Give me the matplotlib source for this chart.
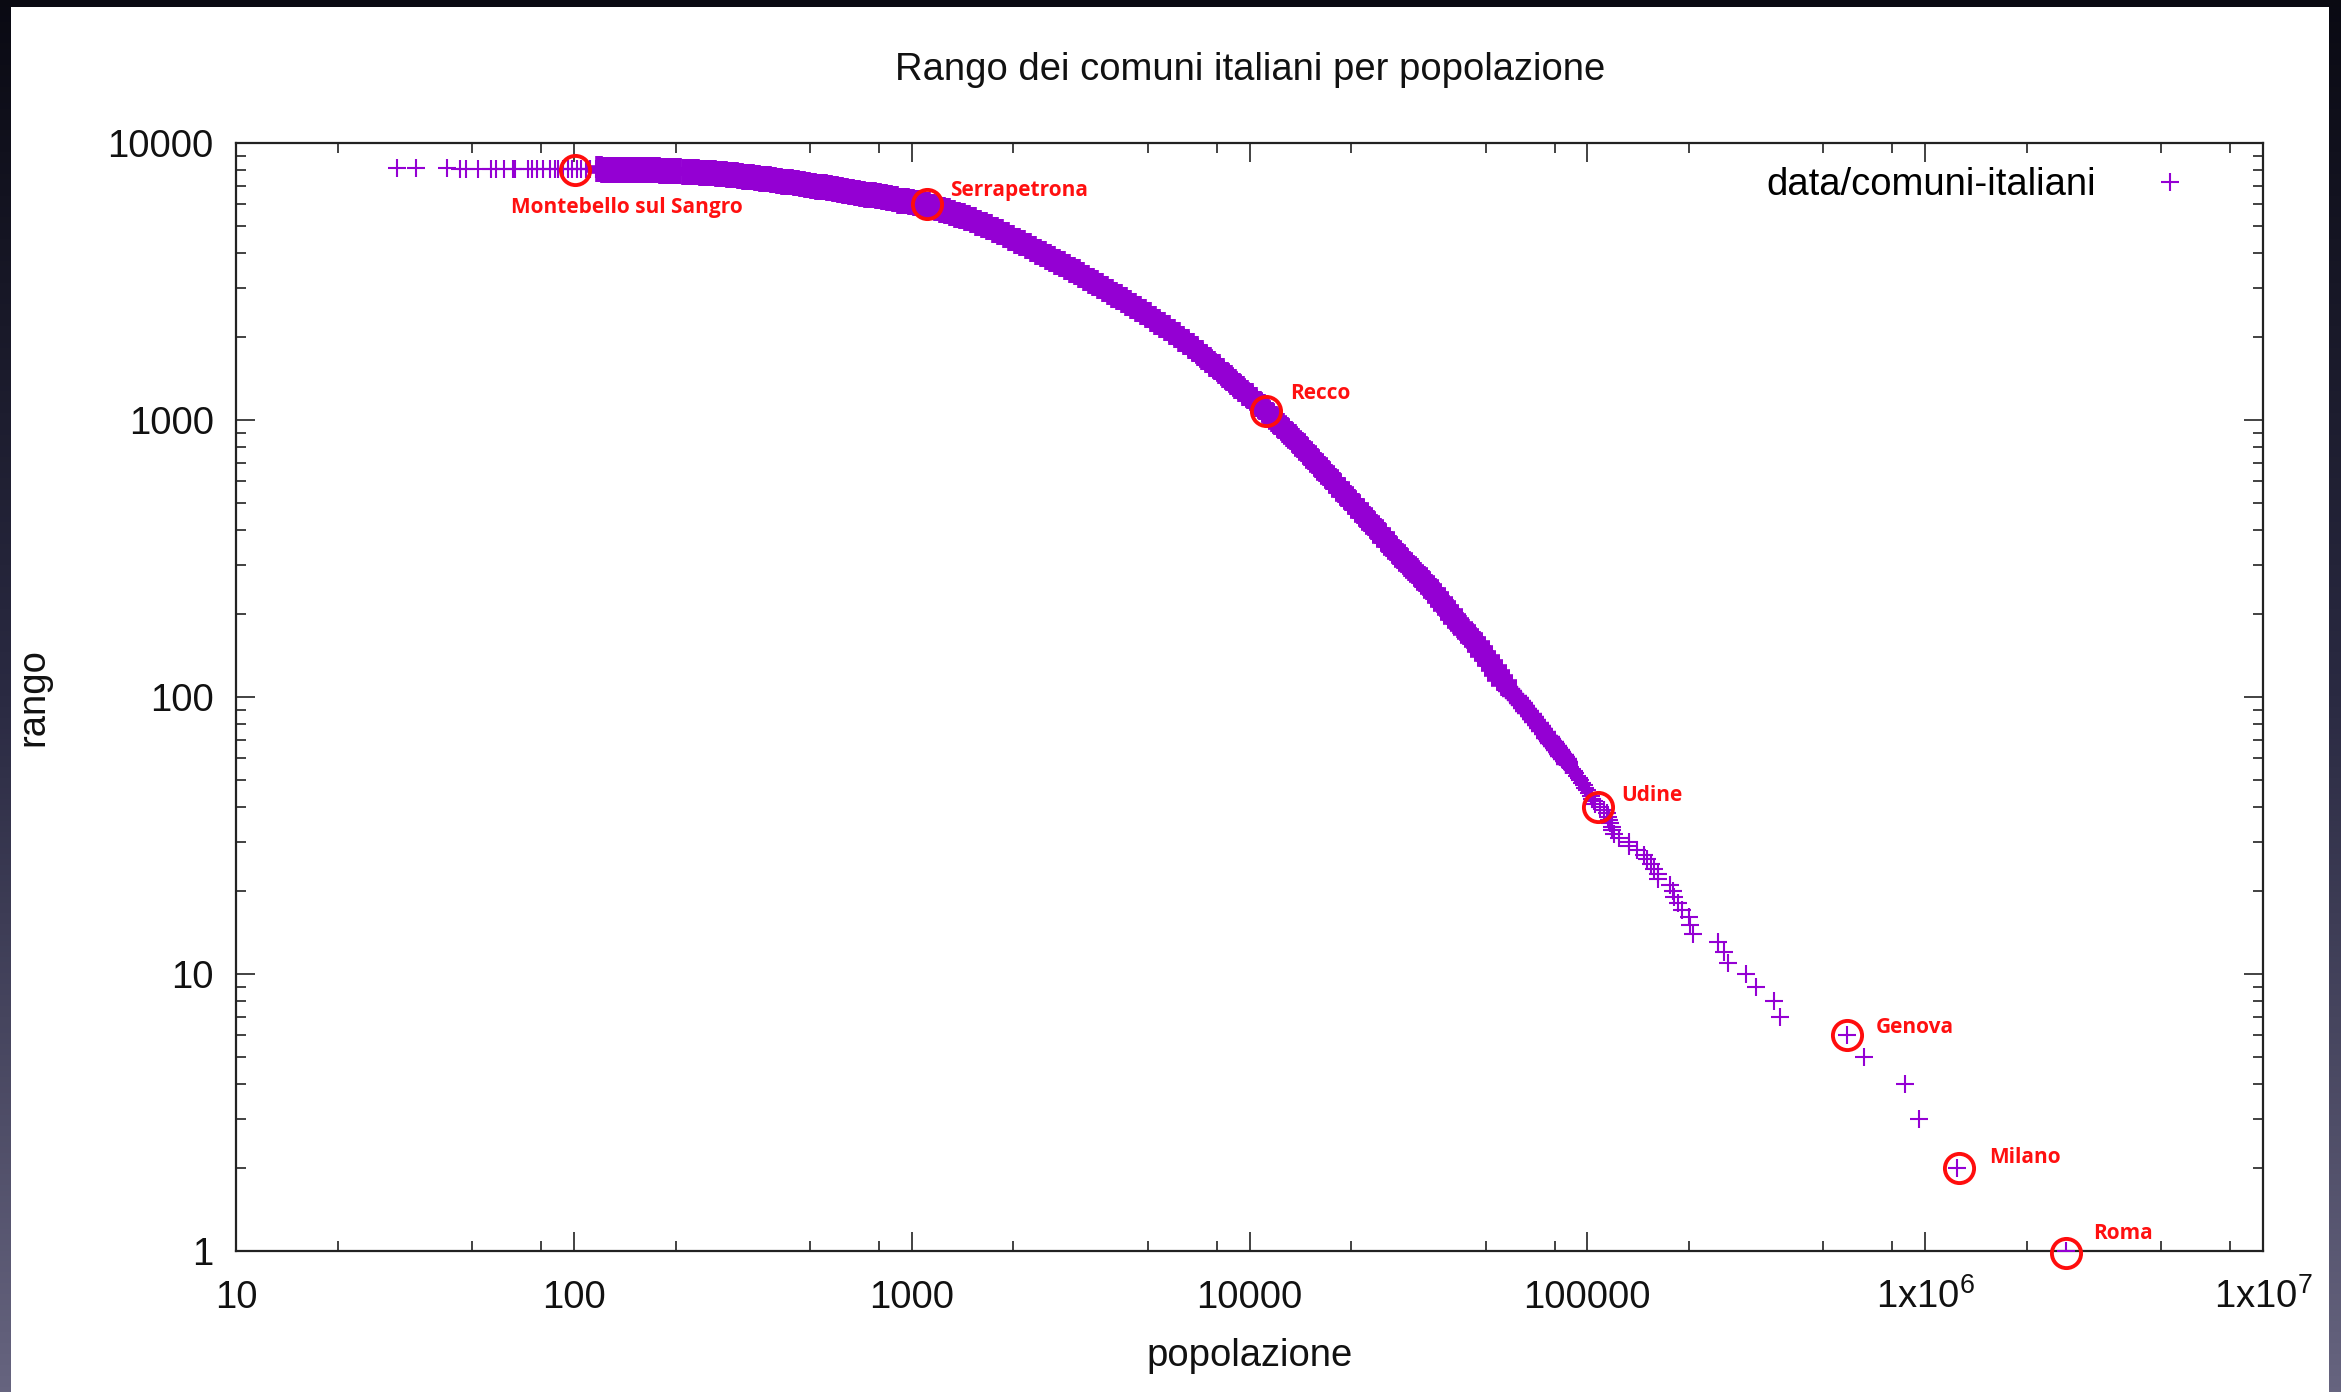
import matplotlib
matplotlib.use('Agg')
import matplotlib.pyplot as plt
from matplotlib.ticker import NullFormatter
from matplotlib.patches import Rectangle
from matplotlib.colors import LinearSegmentedColormap
import numpy as np

plt.rcParams['font.family'] = ['Liberation Sans', 'DejaVu Sans']
plt.rcParams['mathtext.fontset'] = 'custom'
plt.rcParams['mathtext.rm'] = 'Liberation Sans'
plt.rcParams['mathtext.it'] = 'Liberation Sans:italic'
plt.rcParams['mathtext.bf'] = 'Liberation Sans:bold'

# ---------------- texts ----------------
TITLE = 'Rango dei comuni italiani per popolazione'
XLABEL = 'popolazione'
YLABEL = 'rango'
SERIES_LABEL = 'data/comuni-italiani'

# ---------------- data (population, rank) ----------------
# largest comuni, one point per rank
top_rank = list(range(1, 58))
top_pop = [2620000, 1240000, 962000, 872000, 658000, 586000, 371000, 358000, 316000, 294000,
           261000, 253000, 243000, 206000, 202000, 200000, 190000, 185000, 181000, 179000,
           176000, 162000, 162000, 157000, 154000, 150000, 147000, 140000, 133000, 133000,
           124000, 120000, 118000, 118000, 117000, 116000, 115000, 114000, 112000, 109000,
           105700, 104500, 103300, 102200, 101000, 99900, 98700, 97600, 96500, 95400,
           94400, 93300, 92200, 91200, 90200, 89100, 88100]

mid_rank = [58, 59, 60, 61, 62, 63, 64, 65, 66, 67, 68, 69, 70, 71, 72, 74, 76, 78, 80, 82,
            84, 86, 88, 90, 92, 94, 96, 98, 100, 102, 104, 106, 108]
mid_pop = [87100, 86300, 85500, 84600, 83800, 83000, 82200, 81400, 80600, 79800,
           79100, 78300, 77500, 76800, 76000, 74800, 73600, 72500, 71300, 70200,
           69000, 67900, 66900, 65900, 64900, 64000, 63100, 62200, 61300, 60400,
           59600, 58700, 57900]

# smallest comuni (sparse pluses on the left)
tail_pop = [30, 34, 42, 46, 48, 52, 57, 59, 62, 66, 67, 73, 75, 78, 81,
            85, 88, 90, 93, 96, 99, 102, 105, 109, 112, 116]
tail_rank = [8092, 8091, 8090, 8089, 8088, 8087, 8086, 8085, 8084, 8083, 8082, 8079, 8076, 8073, 8070,
             8066, 8062, 8058, 8055, 8051, 8047, 8043, 8039, 8036, 8032, 8028]

# dense band
band_pop = [119, 123, 127, 131, 135, 139, 143, 148, 152,
            157, 163, 169, 176, 183, 190,
            197, 204, 213, 221, 230, 239,
            248, 258, 267, 278, 288, 299,
            311, 322, 335, 348, 361, 375,
            389, 404, 420, 437, 454, 472,
            490, 509, 528, 549, 570, 591,
            614, 637, 662, 687, 713, 740,
            769, 797, 827, 858, 891,
            924, 959, 995, 1032, 1071,
            1111, 1149, 1189, 1230,
            1273, 1317, 1363, 1410,
            1459, 1515, 1572, 1632, 1695, 1759,
            1826, 1896, 1969, 2044, 2122, 2204,
            2288, 2365, 2444, 2526, 2611, 2699, 2790,
            2884, 2978, 3076, 3176, 3280, 3387, 3498,
            3612, 3730, 3852, 3977, 4107, 4241, 4380,
            4523, 4675, 4833, 4996, 5164, 5338, 5518,
            5704, 5890, 6082, 6281, 6486, 6697, 6916,
            7141, 7345, 7554, 7769, 7991, 8218, 8453, 8694,
            8942, 9197, 9459, 9729, 10007, 10292, 10586, 10888,
            11198, 11490, 11789, 12096, 12411, 12735, 13066, 13407, 13756,
            14116, 14473, 14840, 15216, 15601, 15996, 16402, 16817, 17243,
            17680, 18141, 18614, 19099, 19597, 20108, 20632, 21170, 21722,
            22290, 22854, 23433, 24026, 24634, 25257, 25896, 26551, 27223,
            27913, 28620, 29345, 30088, 30850, 31631, 32432, 33253, 34095,
            34960, 35763, 36584, 37424, 38283, 39162,
            40060, 40981, 41923, 42887, 43873, 44881,
            45910, 46988, 48092, 49222, 50378,
            51560, 52768, 54005, 55271, 56567]
band_rank = [8024, 8020, 8017, 8013, 8009, 8005, 8001, 7998, 7994,
             7990, 7979, 7968, 7958, 7947, 7936,
             7925, 7903, 7881, 7859, 7837, 7815,
             7793, 7761, 7729, 7697, 7665, 7633,
             7601, 7559, 7518, 7476, 7434, 7393,
             7351, 7301, 7252, 7202, 7152, 7102,
             7053, 7005, 6958, 6910, 6862, 6815,
             6767, 6716, 6666, 6615, 6565, 6514,
             6464, 6411, 6358, 6306, 6253,
             6200, 6150, 6099, 6049, 5999,
             5949, 5881, 5814, 5748,
             5683, 5600, 5519, 5439,
             5360, 5257, 5156, 5058, 4961, 4866,
             4772, 4661, 4552, 4446, 4343, 4242,
             4143, 4055, 3970, 3886, 3804, 3723, 3645,
             3567, 3488, 3410, 3334, 3260, 3187, 3116,
             3047, 2975, 2906, 2838, 2771, 2706, 2642,
             2580, 2513, 2448, 2385, 2323, 2263, 2205,
             2148, 2085, 2025, 1966, 1908, 1853, 1799,
             1746, 1694, 1644, 1595, 1548, 1502, 1457, 1414,
             1372, 1331, 1292, 1253, 1216, 1180, 1145, 1111,
             1078, 1045, 1012, 981, 950, 921, 892, 865, 838,
             812, 785, 760, 735, 711, 688, 665, 643, 622,
             602, 581, 561, 542, 523, 505, 488, 471, 455,
             439, 424, 410, 396, 383, 370, 358, 346, 334,
             323, 313, 303, 293, 284, 275, 266, 257, 249,
             241, 233, 224, 217, 209, 202,
             195, 188, 182, 177, 171, 166,
             161, 155, 149, 143, 138,
             133, 127, 122, 117, 112]

# highlighted comuni
annot_names = ['Montebello sul Sangro', 'Serrapetrona', 'Recco', 'Udine', 'Genova', 'Milano', 'Roma']
annot_pop = [101, 1108, 11160, 107400, 587000, 1260000, 2620000]
annot_rank = [7990, 6024, 1078, 40, 6, 2, 0.98]

# axes ticks
x_major = [10, 100, 1000, 10000, 100000, 1000000, 10000000]
x_major_labels = ['10', '100', '1000', '10000', '100000', r'1x10$^{6}$', r'1x10$^{7}$']
x_minor_subs = [2, 5, 8]
y_major = [1, 10, 100, 1000, 10000]
y_major_labels = ['1', '10', '100', '1000', '10000']
y_minor_subs = [2, 3, 4, 5, 6, 7, 8, 9]

# ---------------- figure ----------------
W, H, DPI = 2341, 1392, 100
fig = plt.figure(figsize=(W / DPI, H / DPI), dpi=DPI, facecolor='white')

# dark slide border (screenshot frame)
grad = np.linspace(0, 1, 256).reshape(-1, 1)
frame_cmap = LinearSegmentedColormap.from_list('frame', ['#0a0a13', '#2a2a42', '#66647f'])
for (fx, fw) in [(0, 10 / W), (1 - 12 / W, 12 / W)]:
    bax = fig.add_axes([fx, 0, fw, 1])
    bax.imshow(grad, aspect='auto', cmap=frame_cmap, extent=[0, 1, 0, 1], origin='upper')
    bax.set_axis_off()
fig.patches.append(Rectangle((0, 1 - 7 / H), 1, 7 / H, transform=fig.transFigure,
                             facecolor='#0a0a12', edgecolor='none', zorder=10))

ax = fig.add_axes([236 / W, 1 - 1251 / H, (2263 - 236) / W, (1251 - 143) / H])
ax.set_xscale('log')
ax.set_yscale('log')

PURPLE = '#9400d3'
thin = dict(linestyle='none', marker='+', color=PURPLE, markersize=13, markeredgewidth=1.5, zorder=3)
medium = dict(linestyle='none', marker='+', color=PURPLE, markersize=16, markeredgewidth=3.2, zorder=3)
thick = dict(linestyle='none', marker='+', color=PURPLE, markersize=19, markeredgewidth=5.5, zorder=3)

ax.plot(band_pop, band_rank, **thick)
ax.plot(mid_pop, mid_rank, **medium)
h, = ax.plot(top_pop, top_rank, **thin)
ax.plot(tail_pop, tail_rank, **thin)

# red circles around highlighted comuni
ax.plot(annot_pop, annot_rank, linestyle='none', marker='o', markersize=21,
        markerfacecolor='none', markeredgecolor='#ff0d0d', markeredgewidth=2.8,
        zorder=5, clip_on=False)

label_offsets = {  # (dx, dy) in points, alignment
    'Montebello sul Sangro': (37, -31, 'center'),
    'Serrapetrona': (17, 6, 'left'),
    'Recco': (17.5, 8.5, 'left'),
    'Udine': (17, 4.5, 'left'),
    'Genova': (21, 1.5, 'left'),
    'Milano': (21.5, 3.5, 'left'),
    'Roma': (19, 10.5, 'left'),
}
for name, px, ry in zip(annot_names, annot_pop, annot_rank):
    dx, dy, ha = label_offsets[name]
    ax.annotate(name, xy=(px, ry), xytext=(dx, dy), textcoords='offset points',
                ha=ha, va='baseline', color='#ff1010', fontsize=15,
                fontfamily=['Open Sans', 'DejaVu Sans'], fontweight='bold',
                zorder=6, annotation_clip=False)

# ticks
ax.set_xticks(x_major, labels=x_major_labels)
ax.set_xticks([s * 10 ** k for k in range(1, 7) for s in x_minor_subs], minor=True)
ax.set_yticks(y_major, labels=y_major_labels)
ax.set_yticks([s * 10 ** k for k in range(0, 4) for s in y_minor_subs], minor=True)
ax.xaxis.set_minor_formatter(NullFormatter())
ax.yaxis.set_minor_formatter(NullFormatter())
ax.set_xlim(10, 1e7)
ax.set_ylim(1, 1e4)

ax.tick_params(which='both', direction='in', top=True, right=True, color='#222222',
               width=1.2, labelsize=27.5, labelcolor='#111111')
ax.tick_params(which='major', length=14)
ax.tick_params(which='minor', length=7)
ax.tick_params(axis='x', which='major', pad=41)
ax.tick_params(axis='y', which='major', pad=16)
for t in ax.xaxis.get_major_ticks():
    t.label1.set_verticalalignment('baseline')

for sp in ax.spines.values():
    sp.set_linewidth(1.6)
    sp.set_color('#222222')

# legend
ax.legend(handles=[h], labels=[SERIES_LABEL], loc='upper right', bbox_to_anchor=(0.9803, 0.992),
          borderaxespad=0, frameon=False, markerfirst=False, handletextpad=0.92,
          handlelength=2.0, borderpad=0.4, fontsize=27.5)

# titles
fig.text(1250 / W, 1 - 70 / H, TITLE, ha='center', va='center', fontsize=27.5, color='#111111')
fig.text(1250 / W, 1 - 1356 / H, XLABEL, ha='center', va='center', fontsize=27.5, color='#111111')
fig.text(33 / W, 1 - 697 / H, YLABEL, ha='center', va='center', rotation=90, fontsize=27.5, color='#111111')

fig.savefig('out.png', dpi=DPI, facecolor='white')
